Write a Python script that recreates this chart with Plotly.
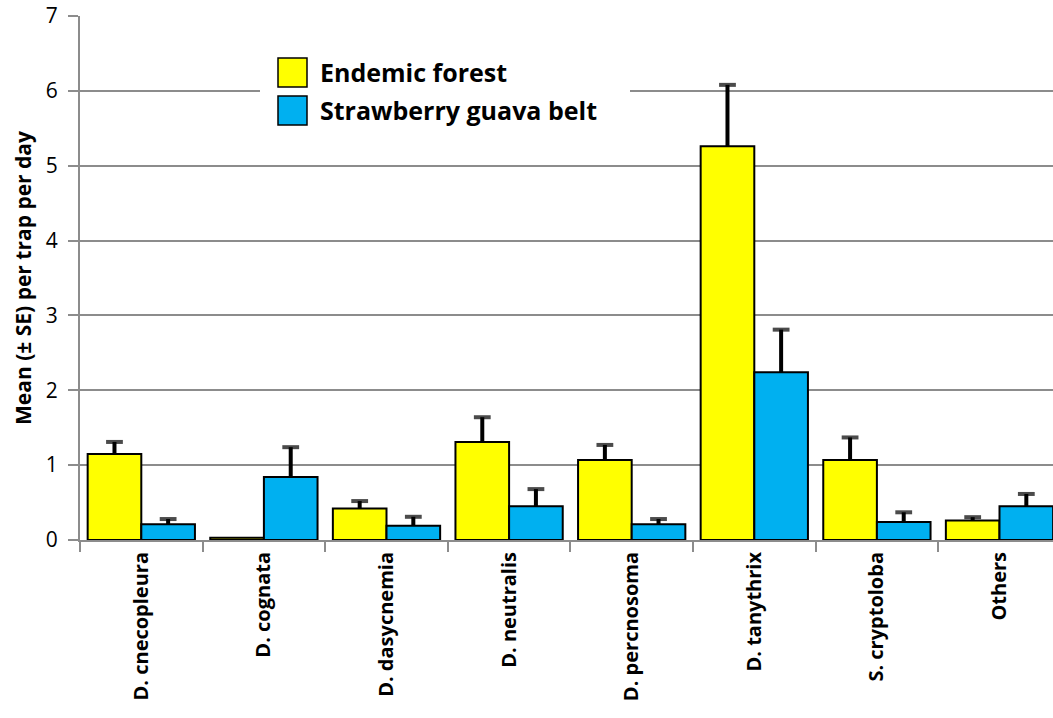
import plotly.graph_objects as go

# Species groups and mean captures (± SE) per trap per day
species = ["D. cnecopleura", "D. cognata", "D. dasycnemia", "D. neutralis",
           "D. percnosoma", "D. tanythrix", "S. cryptoloba", "Others"]
endemic_mean = [1.15, 0.03, 0.42, 1.31, 1.07, 5.26, 1.07, 0.26]
endemic_se = [0.16, 0.0, 0.10, 0.33, 0.20, 0.82, 0.30, 0.045]
guava_mean = [0.21, 0.84, 0.19, 0.45, 0.21, 2.24, 0.24, 0.45]
guava_se = [0.07, 0.40, 0.12, 0.23, 0.07, 0.57, 0.13, 0.165]

series_names = ["Endemic forest", "Strawberry guava belt"]
series_colors = ["#FFFF00", "#00B0F0"]
y_ticks = [0, 1, 2, 3, 4, 5, 6, 7]

W, H = 1053, 718
ML, MR, MT, MB = 80, 0, 16, 178
PW, PH = W - ML - MR, H - MT - MB
CAT_W = 122.6  # width of one category slot in pixels
GAP = 0.125

FONT = "'Open Sans', sans-serif"
GRID = "#8C8C8C"

fig = go.Figure()
for key, name, color, mean, se in [
    ("endemic", series_names[0], series_colors[0], endemic_mean, endemic_se),
    ("guava", series_names[1], series_colors[1], guava_mean, guava_se),
]:
    fig.add_trace(go.Bar(
        x=species, y=mean, name=name, offsetgroup=key,
        marker=dict(color=color, line=dict(color="black", width=2)),
        showlegend=False,
    ))

for key, mean, se in [("endemic", endemic_mean, endemic_se),
                      ("guava", guava_mean, guava_se)]:
    # upward-only error bars: a stem from the bar top to mean + SE, capped
    xs, ys, sizes = [], [], []
    for sp, m, s in zip(species, mean, se):
        if s <= 0:
            continue
        xs += [sp, sp, None]
        ys += [m, m + s, None]
        sizes += [0, 12, 0]
    fig.add_trace(go.Scatter(
        x=xs, y=ys, offsetgroup=key, mode="lines+markers",
        line=dict(color="black", width=4),
        marker=dict(symbol="line-ew", size=sizes,
                    line=dict(color="black", width=4)),
        connectgaps=False, showlegend=False, hoverinfo="skip",
    ))


def px(xp):
    return (xp - ML) / PW


def py(yp):
    return (H - MB - yp) / PH


# Legend box drawn over the grid
shapes = [dict(type="rect", xref="paper", yref="paper",
               x0=px(260), x1=px(630), y0=py(133), y1=py(48),
               fillcolor="white", line=dict(width=0), layer="above")]
annotations = []
for i, (name, color) in enumerate(zip(series_names, series_colors)):
    top = 58 + i * 38
    shapes.append(dict(type="rect", xref="paper", yref="paper",
                       x0=px(278), x1=px(307), y0=py(top + 29), y1=py(top),
                       fillcolor=color, line=dict(color="black", width=1.5),
                       layer="above"))
    annotations.append(dict(xref="paper", yref="paper", x=px(318),
                            y=py(top + 14), xanchor="left", yanchor="middle",
                            text=f"<b>{name}</b>", showarrow=False,
                            font=dict(family=FONT, size=25, color="black")))

fig.update_layout(
    width=W, height=H,
    margin=dict(l=ML, r=MR, t=MT, b=MB, pad=0),
    paper_bgcolor="white", plot_bgcolor="white",
    barmode="group", bargap=GAP, bargroupgap=0,
    scattermode="group", scattergap=GAP,
    font=dict(family=FONT, color="black"),
    shapes=shapes, annotations=annotations,
    xaxis=dict(
        type="category", categoryarray=species, categoryorder="array",
        range=[-0.5, -0.5 + PW / CAT_W],
        showline=True, linecolor=GRID, linewidth=2,
        ticks="outside", tickson="boundaries", ticklen=10,
        tickcolor=GRID, tickwidth=2,
        tickangle=-90, ticklabelstandoff=2,
        tickfont=dict(family=FONT, size=20, color="black", weight="bold"),
        showgrid=False, zeroline=False,
    ),
    yaxis=dict(
        range=[0, 7], tickvals=y_ticks,
        showline=True, linecolor=GRID, linewidth=2,
        ticks="outside", ticklen=10, tickcolor=GRID, tickwidth=2,
        showgrid=True, gridcolor=GRID, gridwidth=2, zeroline=False,
        tickfont=dict(family=FONT, size=21, color="black"),
        ticklabelstandoff=6,
        title=dict(text="<b>Mean (± SE) per trap per day</b>",
                   font=dict(family=FONT, size=21, color="black"),
                   standoff=8),
    ),
)

fig.write_html("out.html")
